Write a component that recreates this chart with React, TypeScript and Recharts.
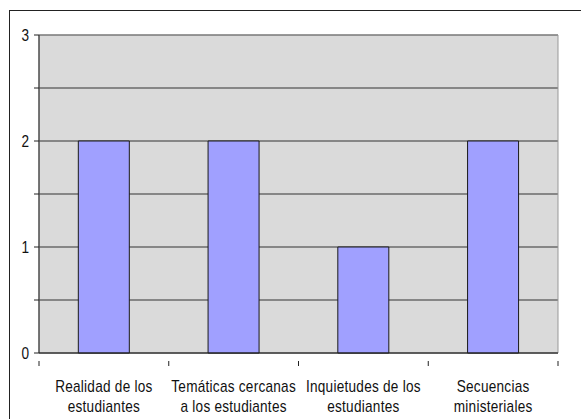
import React from "react";
import {
  BarChart,
  Bar,
  XAxis,
  YAxis,
  CartesianGrid,
  ReferenceArea,
} from "recharts";

const categories = [
  ["Realidad de los", "estudiantes"],
  ["Temáticas cercanas", "a los estudiantes"],
  ["Inquietudes de los", "estudiantes"],
  ["Secuencias", "ministeriales"],
];
const values = [2, 2, 1, 2];
const yTicks = [0, 0.5, 1, 1.5, 2, 2.5, 3];

const data = categories.map((c, i) => ({ name: c.join("\n"), value: values[i] }));

const FONT = "'Liberation Sans', Arial, sans-serif";

const CategoryTick = (props: any) => {
  const { x, y, payload, index } = props;
  const half = payload?.offset ?? 129.75 / 2;
  const lines = String(payload.value).split("\n");
  const last = index === categories.length - 1;
  return (
    <g>
      <line x1={x - half} y1={y} x2={x - half} y2={y + 5} stroke="#222" />
      {last && <line x1={x + half} y1={y} x2={x + half} y2={y + 5} stroke="#222" />}
      <g transform={`translate(${x},${y}) scale(0.85,1)`}>
        <text x={0} y={0} textAnchor="middle" fontSize={16} fontFamily={FONT} fill="#111" letterSpacing={0.3}>
          <tspan x={0} dy={31}>{lines[0]}</tspan>
          <tspan x={0} dy={20}>{lines[1]}</tspan>
        </text>
      </g>
    </g>
  );
};

const ValueTick = (props: any) => {
  const { x, y, payload } = props;
  if (!Number.isInteger(payload.value)) return null;
  return (
    <g transform={`translate(${x},${y}) scale(0.85,1)`}>
      <text x={0} y={0} dy="0.36em" textAnchor="end" fontSize={16} fontFamily={FONT} fill="#111">
        {payload.value}
      </text>
    </g>
  );
};

export default function App() {
  return (
    <div style={{ position: "absolute", left: 0, top: 0, width: 581, height: 419, background: "#fff" }}>
      <div
        style={{
          position: "absolute",
          left: 9,
          top: 10,
          width: 600,
          height: 440,
          borderLeft: "1px solid #222",
          borderTop: "1px solid #222",
        }}
      />
      <div style={{ position: "absolute", left: 0, top: 0 }}>
        <BarChart
          width={581}
          height={419}
          data={data}
          margin={{ top: 35, right: 23, bottom: 0, left: 0 }}
          barCategoryGap="30.3%"
        >
          <CartesianGrid vertical={false} fill="#dadada" stroke="#333" strokeWidth={1} />
          <ReferenceArea y1={0} y2={3} fill="none" stroke="#999" strokeWidth={1} ifOverflow="visible" />
          <XAxis
            dataKey="name"
            height={66}
            interval={0}
            tickLine={false}
            axisLine={{ stroke: "#222" }}
            tick={<CategoryTick />}
          />
          <YAxis
            width={39}
            domain={[0, 3]}
            ticks={yTicks}
            interval={0}
            tickSize={5}
            tickMargin={5}
            axisLine={{ stroke: "#222" }}
            tickLine={{ stroke: "#222" }}
            tick={<ValueTick />}
          />
          <Bar dataKey="value" fill="#a0a0ff" stroke="#1a1a1a" strokeWidth={1} isAnimationActive={false} />
        </BarChart>
      </div>
    </div>
  );
}
